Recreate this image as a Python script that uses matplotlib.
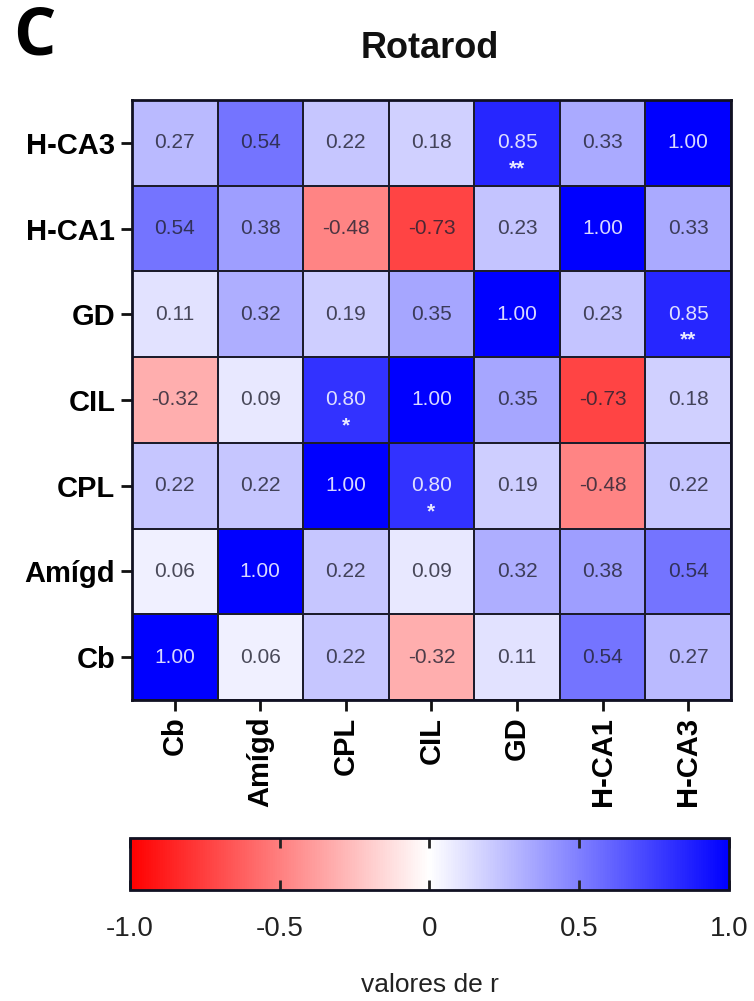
import matplotlib
matplotlib.use("Agg")
import matplotlib.pyplot as plt
import numpy as np

plt.rcParams['font.family'] = ['Liberation Sans', 'DejaVu Sans']

# regiones (de abajo hacia arriba en el eje y, de izquierda a derecha en x)
regiones = ["Cb", "Amígd", "CPL", "CIL", "GD", "H-CA1", "H-CA3"]

# valores de r (matriz simétrica)
r_cb = [1.00, 0.06, 0.22, -0.32, 0.11, 0.54, 0.27]
r_amigd = [0.06, 1.00, 0.22, 0.09, 0.32, 0.38, 0.54]
r_cpl = [0.22, 0.22, 1.00, 0.80, 0.19, -0.48, 0.22]
r_cil = [-0.32, 0.09, 0.80, 1.00, 0.35, -0.73, 0.18]
r_gd = [0.11, 0.32, 0.19, 0.35, 1.00, 0.23, 0.85]
r_hca1 = [0.54, 0.38, -0.48, -0.73, 0.23, 1.00, 0.33]
r_hca3 = [0.27, 0.54, 0.22, 0.18, 0.85, 0.33, 1.00]

# significancia
estrellas_cb = ["", "", "", "", "", "", ""]
estrellas_amigd = ["", "", "", "", "", "", ""]
estrellas_cpl = ["", "", "", "*", "", "", ""]
estrellas_cil = ["", "", "*", "", "", "", ""]
estrellas_gd = ["", "", "", "", "", "", "**"]
estrellas_hca1 = ["", "", "", "", "", "", ""]
estrellas_hca3 = ["", "", "", "", "**", "", ""]

matriz = np.array([r_cb, r_amigd, r_cpl, r_cil, r_gd, r_hca1, r_hca3])
estrellas = [estrellas_cb, estrellas_amigd, estrellas_cpl, estrellas_cil,
             estrellas_gd, estrellas_hca1, estrellas_hca3]

fig = plt.figure(figsize=(7.54, 10.01), dpi=100)
ax = fig.add_axes([0.175, 0.3007, 0.7944, 0.5994])

mapa = ax.pcolormesh(matriz, cmap="bwr_r", vmin=-1, vmax=1,
                     edgecolors="#1c1c2c", linewidth=1.1)

n = len(regiones)
for i in range(n):
    for j in range(n):
        v = matriz[i, j]
        if abs(v) >= 0.75:
            color, alfa = "white", 0.85
        else:
            color, alfa = "#202030", 0.8
        ax.text(j + 0.5, i + 0.5, "%.2f" % v, ha="center", va="center",
                fontsize=15, color=color, alpha=alfa)
        if estrellas[i][j]:
            ax.text(j + 0.5, i + 0.2, estrellas[i][j], ha="center",
                    va="center", fontsize=15, fontweight="bold",
                    color="white", alpha=0.9)

ax.set_xlim(0, n)
ax.set_ylim(0, n)
ax.set_xticks(np.arange(n) + 0.5)
ax.set_yticks(np.arange(n) + 0.5)
ax.set_xticklabels(regiones, rotation=90, fontsize=21, fontweight="bold")
ax.set_yticklabels(regiones, fontsize=21, fontweight="bold")
ax.tick_params(direction="out", length=8, width=2, pad=4, color="#111111")
for s in ax.spines.values():
    s.set_linewidth(2)
    s.set_color("#111122")

fig.text(0.57, 0.952, "Rotarod", fontsize=26, fontweight="bold",
         ha="center", va="center", color="#111111")
fig.text(0.017, 0.997, "C", fontsize=48, fontweight="bold", va="top",
         ha="left", family=["Open Sans", "DejaVu Sans"])

# barra de color
cax = fig.add_axes([0.1724, 0.1109, 0.7944, 0.052])
cb = fig.colorbar(mapa, cax=cax, orientation="horizontal")
cb.set_ticks([-1.0, -0.5, 0, 0.5, 1.0])
cb.set_ticklabels(["-1.0", "-0.5", "0", "0.5", "1.0"])
cax.tick_params(direction="in", length=7, width=2, top=True, bottom=True,
                labelsize=20, pad=19, colors="#222222")
cb.outline.set_linewidth(2)
cb.outline.set_edgecolor("#111122")
cb.set_label("valores de r", fontsize=19, labelpad=22, color="#222222")

fig.savefig("out.png", dpi=100)
